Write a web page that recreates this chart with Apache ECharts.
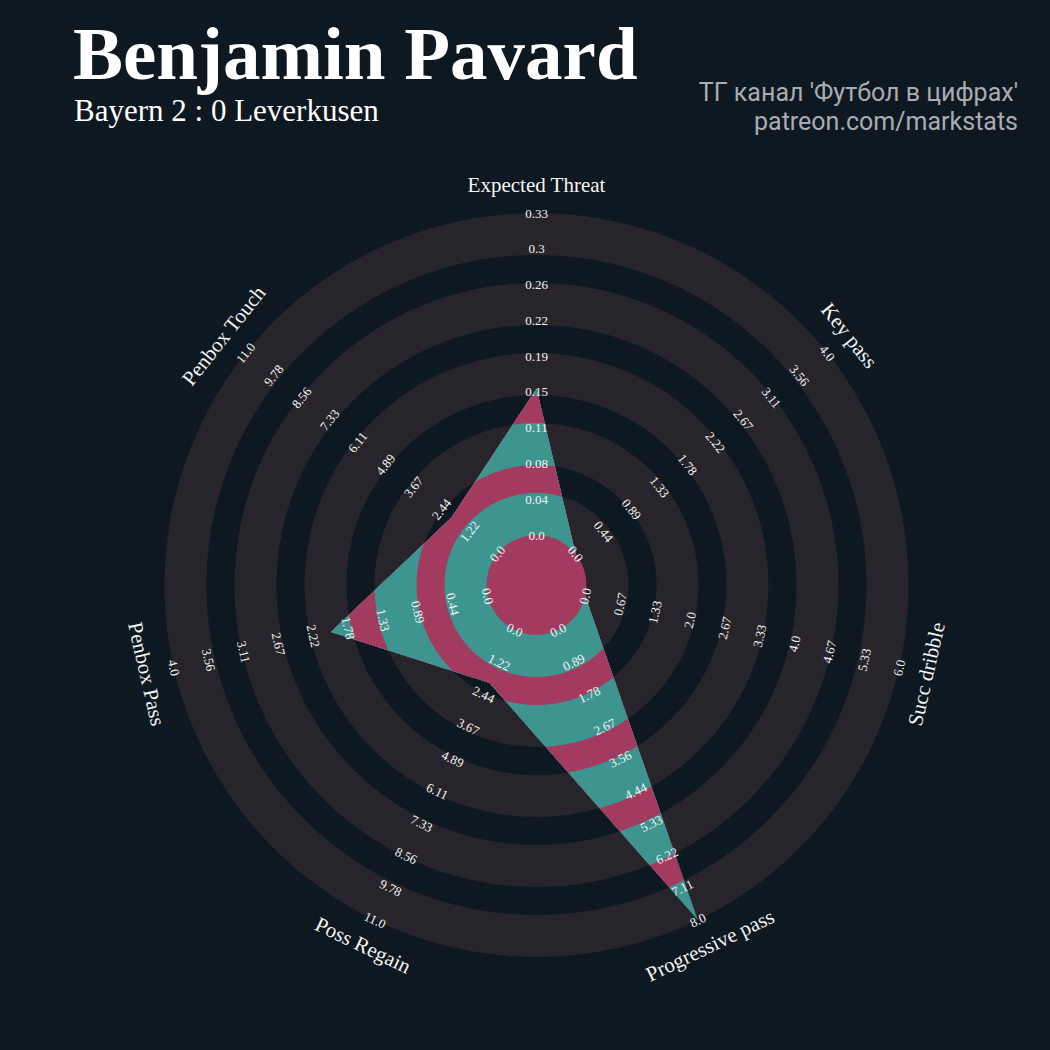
<!DOCTYPE html>
<html>
<head>
<meta charset="utf-8">
<script src="https://cdn.jsdelivr.net/npm/echarts@6/dist/echarts.min.js"></script>
<style>
html,body{margin:0;padding:0;background:#0e1821;}
#c{width:1050px;height:1050px;}
</style>
</head>
<body>
<div id="c"></div>
<script>
// ---------- data ----------
const params = ['Expected Threat', 'Key pass', 'Succ dribble', 'Progressive pass', 'Poss Regain', 'Penbox Pass', 'Penbox Touch'];
const values = [0.15, 0, 0, 8, 2, 2, 2];
const minRange = [0, 0, 0, 0, 0, 0, 0];
const maxRange = [0.33, 4, 6, 8, 11, 4, 11];
const tickXT = ['0.0', '0.04', '0.08', '0.11', '0.15', '0.19', '0.22', '0.26', '0.3', '0.33'];
const tickKeyPass = ['0.0', '0.44', '0.89', '1.33', '1.78', '2.22', '2.67', '3.11', '3.56', '4.0'];
const tickDribble = ['0.0', '0.67', '1.33', '2.0', '2.67', '3.33', '4.0', '4.67', '5.33', '6.0'];
const tickProgPass = ['0.0', '0.89', '1.78', '2.67', '3.56', '4.44', '5.33', '6.22', '7.11', '8.0'];
const tickRegain = ['0.0', '1.22', '2.44', '3.67', '4.89', '6.11', '7.33', '8.56', '9.78', '11.0'];
const tickPenPass = ['0.0', '0.44', '0.89', '1.33', '1.78', '2.22', '2.67', '3.11', '3.56', '4.0'];
const tickPenTouch = ['0.0', '1.22', '2.44', '3.67', '4.89', '6.11', '7.33', '8.56', '9.78', '11.0'];
const tickLabels = [tickXT, tickKeyPass, tickDribble, tickProgPass, tickRegain, tickPenPass, tickPenTouch];
const titleText = 'Benjamin Pavard';
const subtitleText = 'Bayern 2 : 0 Leverkusen';
const creditLines = ["ТГ канал 'Футбол в цифрах'", 'patreon.com/markstats'];

// ---------- layout / style ----------
const BG = '#0e1821', RING = '#28242b', PINK = '#a33b61', TEAL = '#3e9590';
const R_IN = 50, R_OUT = 372, R_LABEL = 400;
const ringEdges = [50, 92, 120, 162, 190, 232, 260, 302, 330, 372];
const N = params.length;

function axisAngle(i) { return i * 360 / N; }
function radiusOf(v, i) { return R_IN + (v - minRange[i]) / (maxRange[i] - minRange[i]) * (R_OUT - R_IN); }
function textRot(i) {
  let rot = (90 - axisAngle(i)) - 90;
  while (rot <= -180) rot += 360;
  while (rot > 180) rot -= 360;
  if (rot < -90) rot += 180;
  else if (rot > 90) rot -= 180;
  return rot * Math.PI / 180;
}
function pxRadius(api, r) {
  const c = api.coord([0, 0]);
  const p = api.coord([r, 0]);
  return Math.hypot(p[0] - c[0], p[1] - c[1]);
}

// ring items: gray bands
const ringItems = [];
for (let k = 1; k < ringEdges.length; k += 2) ringItems.push([ringEdges[k], 0, ringEdges[k - 1]]);
// polygon band items, outer to inner
const bandItems = [];
for (let k = ringEdges.length - 1; k >= 0; k--) bandItems.push([ringEdges[k], 0, k]);
// text items
const textItems = [], textStrings = [], textRots = [], textSizes = [];
for (let i = 0; i < N; i++) {
  const labs = tickLabels[i];
  for (let k = 0; k < labs.length; k++) {
    textItems.push([R_IN + k / (labs.length - 1) * (R_OUT - R_IN), axisAngle(i)]);
    textStrings.push(labs[k]); textRots.push(textRot(i)); textSizes.push(13);
  }
  textItems.push([R_LABEL, axisAngle(i)]);
  textStrings.push(params[i]); textRots.push(textRot(i)); textSizes.push(21);
}

const chart = echarts.init(document.getElementById('c'), null, { renderer: 'svg', width: 1050, height: 1050 });

const option = {
  backgroundColor: BG,
  animation: false,
  polar: { center: [536.5, 585], radius: R_OUT },
  angleAxis: { type: 'value', min: 0, max: 360, startAngle: 90, clockwise: true, show: false },
  radiusAxis: { type: 'value', min: 0, max: R_OUT, show: false },
  graphic: [
    { type: 'text', left: 73, top: 16, silent: true,
      style: { text: titleText, fill: '#ffffff', font: 'bold 75px "Liberation Serif"' } },
    { type: 'text', left: 74, top: 95, silent: true,
      style: { text: subtitleText, fill: '#ffffff', font: '31px "Liberation Serif"' } },
    { type: 'text', right: 32, top: 80, silent: true,
      style: { text: creditLines[0], fill: '#a9adb2', font: '25px Roboto' } },
    { type: 'text', right: 32, top: 109, silent: true,
      style: { text: creditLines[1], fill: '#a9adb2', font: '25px Roboto' } }
  ],
  series: [
    {
      type: 'custom', coordinateSystem: 'polar', silent: true, z: 1,
      data: ringItems,
      renderItem: function (p, api) {
        const c = api.coord([0, 0]);
        return { type: 'ring', shape: { cx: c[0], cy: c[1], r: pxRadius(api, api.value(0)), r0: pxRadius(api, api.value(2)) },
                 style: { fill: RING } };
      }
    },
    {
      type: 'custom', coordinateSystem: 'polar', silent: true, z: 2,
      data: bandItems,
      renderItem: function (p, api) {
        const k = api.value(2);
        const c = api.coord([0, 0]);
        const R = pxRadius(api, api.value(0));
        const col = (k % 2 === 1) ? TEAL : PINK;
        if (k === 0) {
          return { type: 'circle', z2: 20, shape: { cx: c[0], cy: c[1], r: R }, style: { fill: col } };
        }
        const verts = values.map((v, i) => api.coord([radiusOf(v, i), axisAngle(i)]));
        const pts = [];
        const S = 260;
        for (let i = 0; i < N; i++) {
          const a = verts[i], b = verts[(i + 1) % N];
          for (let s = 0; s < S; s++) {
            const t = s / S;
            let x = a[0] + (b[0] - a[0]) * t, y = a[1] + (b[1] - a[1]) * t;
            const dx = x - c[0], dy = y - c[1];
            const d = Math.hypot(dx, dy);
            if (d > R) { x = c[0] + dx * R / d; y = c[1] + dy * R / d; }
            pts.push([x, y]);
          }
        }
        return { type: 'polygon', z2: 10 - k, shape: { points: pts }, style: { fill: col } };
      }
    },
    {
      type: 'custom', coordinateSystem: 'polar', silent: true, z: 3,
      data: textItems,
      renderItem: function (p, api) {
        const pt = api.coord([api.value(0), api.value(1)]);
        const idx = p.dataIndex;
        return { type: 'text', x: pt[0], y: pt[1], rotation: textRots[idx],
                 style: { text: textStrings[idx], fill: '#f4f4f4', font: textSizes[idx] + 'px "Liberation Serif"',
                          align: 'center', verticalAlign: 'middle' } };
      }
    }
  ]
};
chart.setOption(option);
</script>
</body>
</html>
